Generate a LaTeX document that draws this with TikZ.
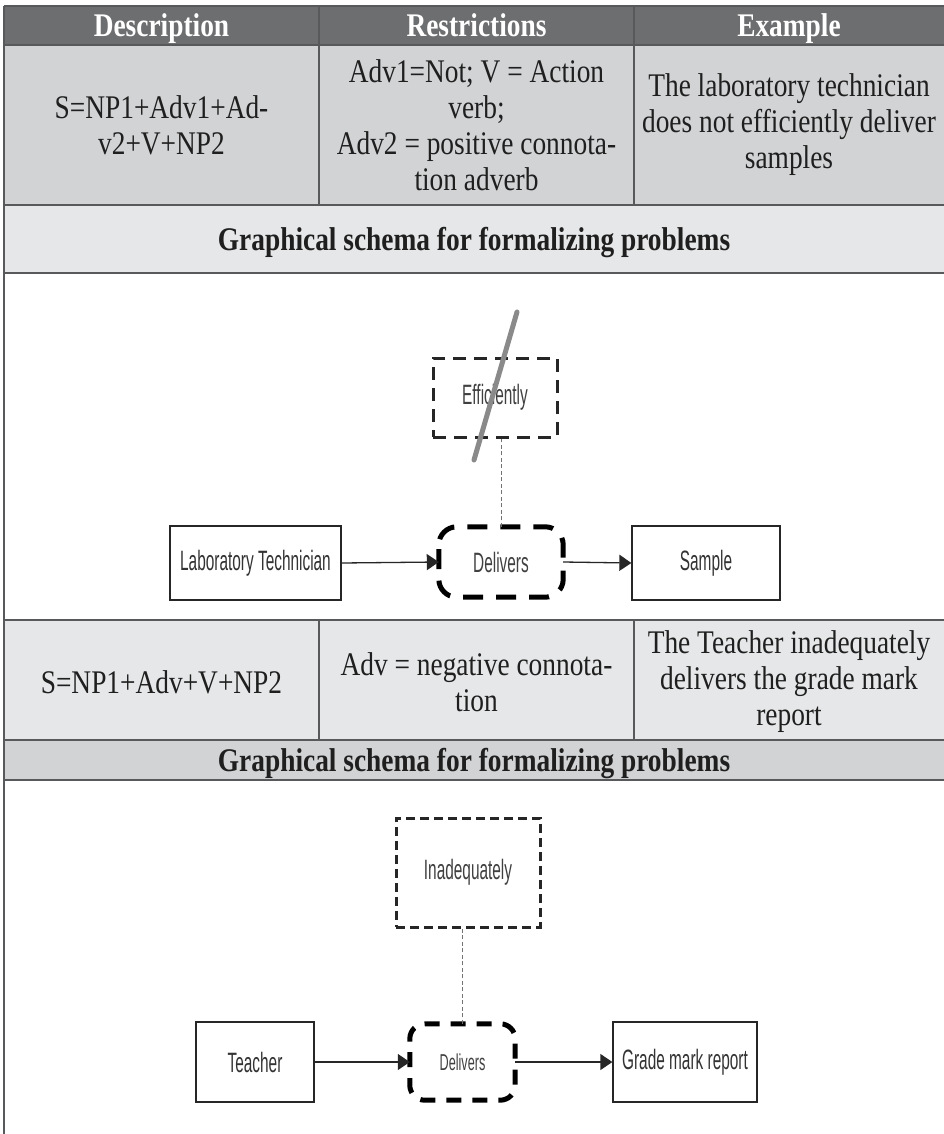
\documentclass[tikz,border=0pt]{standalone}
\usepackage{fontspec}
\setmainfont{Liberation Serif}[FakeStretch=0.83]
\newfontfamily\diagfont{Liberation Sans}[FakeStretch=0.55]
\usetikzlibrary{arrows.meta}

\definecolor{hdrfill}{HTML}{6D6E70}
\definecolor{darkrow}{HTML}{D2D3D5}
\definecolor{lightrow}{HTML}{E6E7E8}
\definecolor{rulecol}{HTML}{58595B}
\definecolor{slashcol}{HTML}{8A8A8A}

\tikzset{
  rulel/.style={draw=rulecol, line width=1.4pt},
  cell/.style={align=center, inner sep=0pt, text=black!88,
               font=\fontsize{33}{36}\selectfont},
  headcell/.style={cell, anchor=base, text=white, font=\fontsize{33}{36}\selectfont\bfseries},
  schemacell/.style={cell, anchor=base, font=\fontsize{33}{36}\selectfont\bfseries},
  plainbox/.style={draw=black!85, line width=1.3pt, fill=white, inner sep=2pt,
                   font=\diagfont\fontsize{28}{30}\selectfont, text=black!80},
  advbox/.style={draw=black!85, line width=3pt, dash pattern=on 13pt off 8pt,
                 inner sep=2pt, font=\diagfont\fontsize{28}{30}\selectfont, text=black!75},
  verbbox/.style={inner sep=2pt, font=\diagfont\fontsize{28}{30}\selectfont, text=black!75},
  verbline/.style={draw=black, line width=5pt, rounded corners=18pt,
                   dash pattern=on 20pt off 13pt, dash phase=26.5pt},
  flow/.style={draw=black!85, line width=1.3pt, -{Triangle[length=12pt,width=16pt]}},
  link/.style={draw=black!55, line width=0.9pt, dash pattern=on 4pt off 2.5pt},
  strike/.style={draw=slashcol, line width=5pt, line cap=round}
}

\begin{document}
\begin{tikzpicture}[x=1pt,y=-1pt]
\useasboundingbox (0,0) rectangle (944,1134);

% row fills
\fill[hdrfill]  (4,6)   rectangle (944,45);
\fill[darkrow]  (4,45)  rectangle (944,205);
\fill[lightrow] (4,205) rectangle (944,273);
\fill[white]    (4,273) rectangle (944,620);
\fill[lightrow] (4,620) rectangle (944,740);
\fill[darkrow]  (4,740) rectangle (944,780);

% table rules
\draw[rulel] (4,6) -- (944,6);
\draw[rulel] (4,45) -- (944,45);
\draw[rulel] (4,205) -- (944,205);
\draw[rulel] (4,273) -- (944,273);
\draw[rulel] (4,620) -- (944,620);
\draw[rulel] (4,740) -- (944,740);
\draw[rulel] (4,780) -- (944,780);
\draw[rulel] (4,6) -- (4,1134);
\draw[rulel] (319,6) -- (319,205);
\draw[rulel] (634,6) -- (634,205);
\draw[rulel] (319,620) -- (319,740);
\draw[rulel] (634,620) -- (634,740);

% header
\node[headcell] (hdesc) at (161.5,37) {Description};
\node[headcell] (hrest) at (476.5,37) {Restrictions};
\node[headcell] (hexam) at (789,37) {Example};

% first pattern
\node[cell] (d1) at (161.5,125) {S=NP1+Adv1+Ad-\\v2+V+NP2};
\node[cell] (r1) at (476.5,125) {Adv1=Not; V = Action\\verb;\\Adv2 = positive connota-\\tion adverb};
\node[cell] (e1) at (789,125) {The laboratory technician\\does not efficiently deliver\\samples};
\node[schemacell] (g1) at (474,250) {Graphical schema for formalizing problems};

% first schema
\node[plainbox, minimum width=171pt, minimum height=74pt] (lab) at (255.5,563) {Laboratory Technician};
\node[advbox, minimum width=124pt, minimum height=79pt] (eff) at (495,397.5) {Efficiently};
\node[verbbox, minimum width=124pt, minimum height=70pt] (del1) at (501,562) {Delivers};
\draw[verbline] (del1.west) -- (del1.north west) -- (del1.north east)
   -- (del1.south east) -- (del1.south west) -- cycle;
\node[plainbox, minimum width=148pt, minimum height=74pt] (smp) at (706,563) {Sample};
\draw[link] (del1.north) -- (del1.north |- eff.south);
\draw[flow] (lab.east) -- (del1.west);
\draw[flow] (del1.east) -- (smp.west);
\coordinate (sa) at (517,312);
\coordinate (sb) at (474,460);
\draw[strike] (sa) -- (sb);

% second pattern
\node[cell] (d2) at (161.5,682) {S=NP1+Adv+V+NP2};
\node[cell] (r2) at (476.5,682) {Adv = negative connota-\\tion};
\node[cell] (e2) at (789,682) {The Teacher inadequately\\delivers the grade mark\\report};
\node[schemacell] (g2) at (474,771) {Graphical schema for formalizing problems};

% second schema
\begin{scope}[every node/.append style={font=\diagfont\fontsize{26}{28}\selectfont}]
\node[plainbox, minimum width=118pt, minimum height=80pt] (tch) at (255,1062) {Teacher};
\node[advbox, dash pattern=on 9pt off 5pt, minimum width=144pt, minimum height=109pt] (inad) at (468,872.5) {Inadequately};
\node[verbbox, minimum width=105pt, minimum height=76pt, font=\diagfont\fontsize{23}{25}\selectfont] (del2) at (462.5,1062) {Delivers};
\node[plainbox, minimum width=144pt, minimum height=80pt] (grd) at (685,1062) {Grade mark report};
\end{scope}
\draw[verbline, rounded corners=15pt, dash pattern=on 15pt off 11pt, dash phase=20.5pt]
   (del2.west) -- (del2.north west) -- (del2.north east)
   -- (del2.south east) -- (del2.south west) -- cycle;
\draw[link] (del2.north) -- (del2.north |- inad.south);
\draw[flow] (tch.east) -- (del2.west);
\draw[flow] (del2.east) -- (grd.west);
\end{tikzpicture}
\end{document}
